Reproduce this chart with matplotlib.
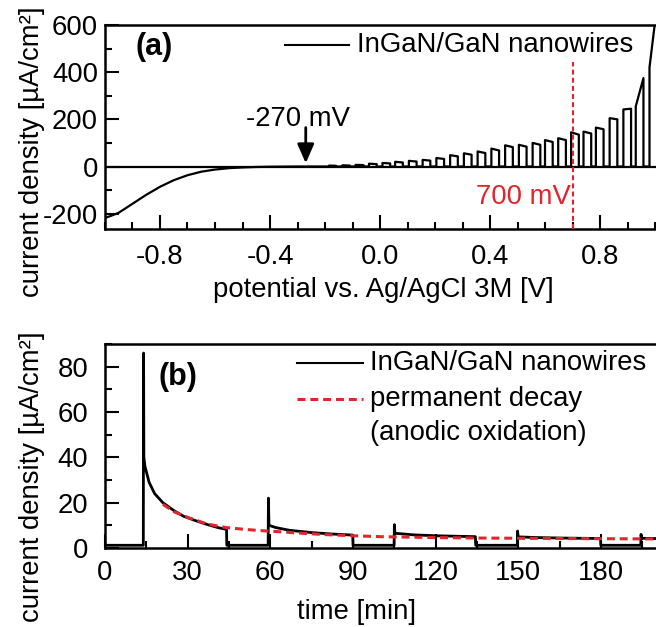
import matplotlib
matplotlib.use("Agg")
import matplotlib.pyplot as plt
from matplotlib.ticker import MultipleLocator, FormatStrFormatter
from matplotlib.lines import Line2D

plt.rcParams['font.family'] = ['Liberation Sans', 'DejaVu Sans']
plt.rcParams['axes.unicode_minus'] = False

# ---------------- data: panel (a) -----------------
dark_V = [-1.0, -0.98, -0.95, -0.9, -0.85, -0.8, -0.75, -0.7, -0.65, -0.6,
          -0.55, -0.5, -0.45, -0.4, -0.3, -0.2]
dark_j = [-218, -210, -196, -158, -120, -86, -58, -37, -22, -13,
          -7, -4, -2, -1, 0, 0]

pulse_on_V = [-0.185, -0.137, -0.089, -0.04, 0.009, 0.055, 0.105, 0.155, 0.205,
              0.255, 0.305, 0.355, 0.405, 0.455, 0.505, 0.555, 0.6, 0.648,
              0.695, 0.74, 0.785, 0.835, 0.885, 0.93, 0.98]
pulse_off_V = [-0.16, -0.11, -0.06, -0.012, 0.037, 0.083, 0.133, 0.183, 0.233,
               0.283, 0.333, 0.383, 0.433, 0.483, 0.533, 0.583, 0.628, 0.676,
               0.723, 0.768, 0.813, 0.863, 0.913, 0.958, 1.03]
pulse_top_start = [4, 5, 7, 12, 15, 20, 24, 28, 36, 48, 56, 64, 76, 90, 92, 100,
                   112, 120, 145, 148, 165, 205, 242, 255, 420]
pulse_top_end = [3, 4, 6, 10, 13, 17, 21, 25, 32, 43, 50, 57, 68, 82, 84, 92,
                 104, 112, 135, 140, 158, 200, 245, 375, 900]

# ---------------- data: panel (b) -----------------
t_nw = [0, 5, 10, 13.9, 14.0, 14.1, 14.5, 16, 18, 21, 25, 28.5, 33, 37, 41, 44.1,
        44.2, 50, 55, 59.2, 59.3, 59.5, 62, 67, 75, 82, 89.9,
        90.0, 95, 100, 104.9, 105.0, 105.2, 112, 120, 127, 134.4,
        134.5, 140, 145, 149.6, 149.7, 149.9, 157, 165, 172, 179.8,
        179.9, 185, 190, 194.4, 194.5, 194.7, 202]
j_nw = [1.2, 1.2, 1.2, 1.2, 86, 40, 36, 29, 24, 20, 16.5, 14, 12, 10.4, 9.0, 8.2,
        1.2, 1.2, 1.2, 1.2, 22, 10, 9.0, 7.8, 6.8, 6.2, 5.7,
        1.2, 1.2, 1.2, 1.2, 10.3, 6.5, 5.8, 5.4, 5.2, 5.0,
        1.2, 1.2, 1.2, 1.2, 7.5, 4.9, 4.6, 4.4, 4.3, 4.2,
        1.2, 1.2, 1.2, 1.2, 6.0, 4.3, 4.1]

t_decay = [21, 25, 30, 37, 44, 50, 56, 63, 70, 80, 90, 100, 110, 120, 135,
           150, 165, 180, 202]
j_decay = [19.3, 16.0, 13.5, 10.6, 9.0, 8.3, 7.7, 7.2, 6.6, 5.9, 5.4, 5.0, 4.8,
           4.6, 4.4, 4.3, 4.2, 4.1, 4.0]

# build panel (a) trace from dark curve + light pulses
V_a = list(dark_V)
j_a = list(dark_j)
for v_on, v_off, hs, he in zip(pulse_on_V, pulse_off_V, pulse_top_start, pulse_top_end):
    V_a += [v_on, v_on, v_off, v_off]
    j_a += [0, hs, he, 0]

# ---------------- figure -----------------
W, H = 656, 627
fig = plt.figure(figsize=(W / 100, H / 100), dpi=100)


def rect(left, top, width, height):
    return [left / W, 1 - (top + height) / H, width / W, height / H]


def fxy(px, py):
    return px / W, 1 - py / H


FS = 19.8
red = '#e0262c'

axA = fig.add_axes(rect(105, 25, 556, 204))
axB = fig.add_axes(rect(105, 344, 556, 204))

for ax in (axA, axB):
    for s in ax.spines.values():
        s.set_linewidth(1.8)
    ax.tick_params(which='both', direction='in', top=False, right=False,
                   labelsize=FS, width=1.5)
    ax.tick_params(which='major', length=10)
    ax.tick_params(which='minor', length=5)

# panel (a)
axA.axhline(0, color='black', lw=1.6, zorder=1)
axA.plot(V_a, j_a, color='black', lw=1.6, zorder=2)
axA.plot([0.70, 0.70], [-265, 445], color=red, lw=1.5, dashes=(2.4, 1.5), zorder=3)
axA.set_xlim(-1.0, -1.0 + 556 / 275)
axA.set_ylim(-265, 600)
axA.set_xticks([-0.8, -0.4, 0.0, 0.4, 0.8])
axA.xaxis.set_major_formatter(FormatStrFormatter('%.1f'))
axA.xaxis.set_minor_locator(MultipleLocator(0.1))
axA.set_yticks([-200, 0, 200, 400, 600])
axA.yaxis.set_minor_locator(MultipleLocator(100))
axA.tick_params(axis='x', pad=11)
axA.tick_params(axis='y', pad=5)
axA.set_xlabel('potential vs. Ag/AgCl 3M [V]', fontsize=FS, va='center')
axA.xaxis.set_label_coords(0.5, -0.30)
axA.set_ylabel('current density [µA/cm²]', fontsize=FS, va='center')
axA.yaxis.set_label_coords(-0.131, 0.377)
axA.annotate('', xy=(-0.27, 14), xytext=(-0.27, 165),
             arrowprops=dict(arrowstyle='-|>,head_length=0.8,head_width=0.35',
                             lw=2, color='black', mutation_scale=14.4,
                             shrinkA=0, shrinkB=0))
axA.text(-0.298, 203, '-270 mV', fontsize=FS, ha='center', va='center')
axA.text(0.695, -130, '700 mV', fontsize=FS, ha='right', va='center', color=red)

# panel (b)
axB.plot(t_nw, j_nw, color='black', lw=2.0, zorder=2)
axB.plot(t_decay, j_decay, color=red, lw=2.2, dashes=(2.6, 1.6), zorder=3)
axB.set_xlim(0, 556 / 2.756)
axB.set_ylim(0, 90)
axB.set_xticks([0, 30, 60, 90, 120, 150, 180])
axB.xaxis.set_minor_locator(MultipleLocator(15))
axB.set_yticks([0, 20, 40, 60, 80])
axB.yaxis.set_minor_locator(MultipleLocator(10))
axB.tick_params(axis='x', pad=9)
axB.tick_params(axis='y', pad=12)
axB.set_xlabel('time [min]', fontsize=FS, va='center')
axB.xaxis.set_label_coords(0.453, -0.314)
axB.set_ylabel('current density [µA/cm²]', fontsize=FS, va='center')
axB.yaxis.set_label_coords(-0.131, 0.348)

# panel letters
fig.text(*fxy(154, 47), '(a)', fontsize=22, fontweight='bold', ha='center', va='center')
fig.text(*fxy(178, 377), '(b)', fontsize=22, fontweight='bold', ha='center', va='center')

# legends (drawn manually to match placement)
def leg_line(x0, x1, y, **kw):
    (a0, b0), (a1, b1) = fxy(x0, y), fxy(x1, y)
    fig.add_artist(Line2D([a0, a1], [b0, b1], transform=fig.transFigure, **kw))


leg_line(285, 349, 45, color='black', lw=1.5)
fig.text(*fxy(357, 45), 'InGaN/GaN nanowires', fontsize=FS, ha='left', va='center')

leg_line(297, 363, 363, color='black', lw=1.5)
fig.text(*fxy(370, 363), 'InGaN/GaN nanowires', fontsize=FS, ha='left', va='center')
leg_line(297, 363, 399, color=red, lw=2.2, dashes=(2.6, 1.6))
fig.text(*fxy(370, 399), 'permanent decay', fontsize=FS, ha='left', va='center')
fig.text(*fxy(370, 433), '(anodic oxidation)', fontsize=FS, ha='left', va='center')

fig.savefig('out.png', dpi=100)
